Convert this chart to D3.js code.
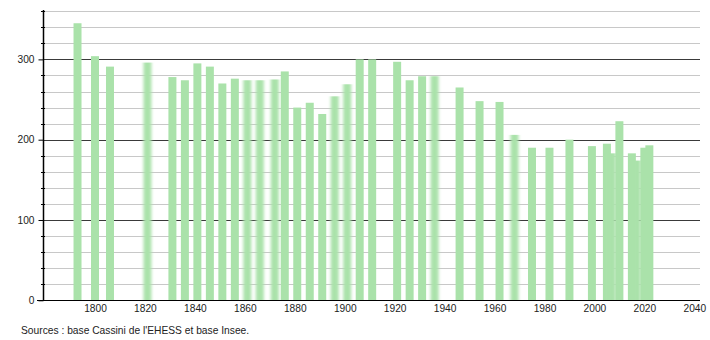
<!DOCTYPE html>
<html><head><meta charset="utf-8">
<script src="https://cdn.jsdelivr.net/npm/d3@7"></script>
<style>body{margin:0;background:#fff}svg{display:block}text{font-family:"Liberation Sans",Arial,sans-serif}</style>
</head><body><svg id="c" width="710" height="340"></svg>
<script>
const years = [1793,1800,1806,1821,1831,1836,1841,1846,1851,1856,1861,1866,1872,1876,1881,1886,1891,1896,1901,1906,1911,1921,1926,1931,1936,1946,1954,1962,1968,1975,1982,1990,1999,2005,2007,2010,2015,2017,2020,2022];
const population = [345,304,291,296,278,274,295,291,270,276,274,274,275,285,240,246,232,254,269,300,300,297,274,279,279,265,248,247,206,190,190,200,192,195,183,223,183,174,190,193];
const xTicks = [1800,1820,1840,1860,1880,1900,1920,1940,1960,1980,2000,2020,2040];
const yMajor = [0,100,200,300];
const yMinor = [20,40,60,80,120,140,160,180,220,240,260,280,320,340,360];
const softYears = [1821,1861,1866,1872,1896,1901,1936,1968,2007,2017];
const sourceText = "Sources : base Cassini de l'EHESS et base Insee.";

const svg = d3.select("#c");
const x = d3.scaleLinear().domain([1800,2040]).range([95,694.3]);
const y = d3.scaleLinear().domain([0,360]).range([300.3,11.2]);
const left = 43, right = 700;
const barW = x(1803.2) - x(1800);

const defs = svg.append("defs");
defs.append("filter").attr("id","soft").attr("x","-50%").attr("width","200%")
  .append("feGaussianBlur").attr("stdDeviation","1.6 0");

// gridlines
svg.append("g").selectAll("line").data(yMinor).join("line")
  .attr("x1",left).attr("x2",right).attr("y1",d=>Math.round(y(d))+0.5).attr("y2",d=>Math.round(y(d))+0.5)
  .attr("stroke","#c8c8c8").attr("stroke-width",1);
svg.append("g").selectAll("line").data(yMajor.filter(d=>d>0)).join("line")
  .attr("x1",left).attr("x2",right).attr("y1",d=>Math.round(y(d))+0.5).attr("y2",d=>Math.round(y(d))+0.5)
  .attr("stroke","#3a3a3a").attr("stroke-width",1);

// bars
const data = years.map((yr,i)=>({year:yr,value:population[i]}));
svg.append("g").selectAll("rect").data(data).join("rect")
  .attr("x",d=>x(d.year)-barW/2).attr("width",barW)
  .attr("y",d=>y(d.value)).attr("height",d=>y(0)-y(d.value))
  .attr("fill","#aae2aa")
  .attr("filter",d=>softYears.includes(d.year)?"url(#soft)":null);

// y axis
const yAxis = d3.axisLeft(y).tickValues(yMajor).tickSize(5).tickPadding(4).tickFormat(d3.format("d"));
const gy = svg.append("g").attr("transform",`translate(${left+0.5},0)`).call(yAxis);
gy.select(".domain").remove();
gy.selectAll("text").attr("font-size",10.2).attr("fill","#222").attr("font-family","Liberation Sans, Arial, sans-serif");
gy.selectAll("line").attr("stroke","#000");
svg.append("g").selectAll("line").data(yMinor).join("line")
  .attr("x1",left-2).attr("x2",left+2).attr("y1",d=>Math.round(y(d))+0.5).attr("y2",d=>Math.round(y(d))+0.5)
  .attr("stroke","#000");
svg.append("line").attr("x1",left+0.5).attr("x2",left+0.5).attr("y1",10).attr("y2",y(0)).attr("stroke","#000").attr("stroke-width",1.5);

// x axis
const xAxis = d3.axisBottom(x).tickValues(xTicks).tickSize(0).tickPadding(4).tickFormat(d3.format("d"));
const gx = svg.append("g").attr("transform",`translate(0,${Math.round(y(0))+0.5})`).call(xAxis);
gx.select(".domain").remove();
gx.selectAll("text").attr("font-size",10.2).attr("fill","#222").attr("font-family","Liberation Sans, Arial, sans-serif");
svg.append("line").attr("x1",left-6).attr("x2",right).attr("y1",Math.round(y(0))+0.5).attr("y2",Math.round(y(0))+0.5).attr("stroke","#000").attr("stroke-width",1.2);

svg.append("text").attr("x",21).attr("y",333.5).attr("font-size",10.25).attr("fill","#222").text(sourceText);
</script></body></html>
